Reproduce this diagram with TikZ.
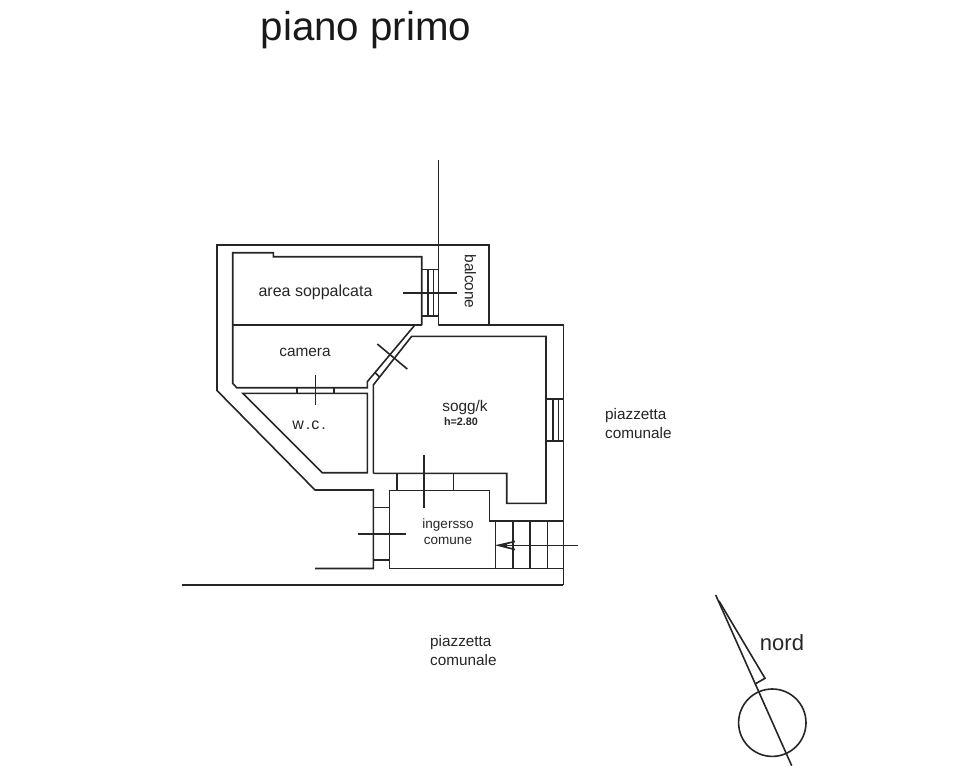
\documentclass[tikz,border=0pt]{standalone}
\usepackage{fontspec}
\setmainfont{Liberation Sans}
\tikzset{
  wall/.style={draw=black!85,line width=1.6pt,line join=miter},
  thin/.style={draw=black!85,line width=1.6pt},
  lab/.style={inner sep=0pt,text=black!85,align=center,font=\fontsize{15.4}{18}\selectfont},
}
\begin{document}
\begin{tikzpicture}[x=1pt,y=-1pt]
\useasboundingbox (0,0) rectangle (959,769);
\fill[white] (0,0) rectangle (959,769);
% outer walls
\draw[wall] (438.3,325) -- (489,325) -- (489,245) -- (217,245) -- (217,390.5) -- (315,490) -- (373.3,490) -- (373.3,568.5) -- (315,568.5);
\draw[wall] (489,325) -- (563.3,325) -- (563.3,585);
\draw[wall] (181.7,585) -- (563.3,585);
\draw[wall] (438.3,160) -- (438.3,325);
% ingresso
\draw[wall] (389.3,568.5) -- (389.3,490.5) -- (489.3,490.5) -- (489.3,521) -- (563.3,521);
\draw[wall] (389.3,568.5) -- (563.3,568.5);
% area soppalcata + camera
\draw[wall] (421.7,325) -- (421.7,256.7) -- (273.3,256.7) -- (273.3,252.7) -- (232.7,252.7) -- (232.7,383.3) -- (236.7,387.7) -- (367.3,387.7) -- (367.3,381.7) -- (414.3,325.7);
\draw[wall] (232.7,325) -- (421.7,325);
% soggiorno
\draw[wall] (373.3,473.3) -- (373.3,385) -- (411.7,336.3) -- (546,336.3) -- (546,503.3) -- (506.7,503.3) -- (506.7,473.3) -- (373.3,473.3);
% w.c.
\draw[wall] (242.7,393.3) -- (322.3,472.7) -- (367.3,472.7) -- (367.3,393.3) -- cycle;
\draw[thin] (296.7,387.7) -- (296.7,393.3) (334,387.7) -- (334,393.3);
\draw[thin] (315.3,375) -- (315.3,405);
% door to balcone
\draw[thin] (421.7,269.3) -- (438.3,269.3) (421.7,316) -- (438.3,316);
\draw[thin] (427.7,269.3) -- (427.7,316) (433.3,269.3) -- (433.3,316);
\draw[thin] (403.3,292.7) -- (456.7,292.7);
% diagonal door
\draw[thin] (377.3,344) -- (407.3,369);
\draw[thin] (375,372.5) -- (379.6,377);
% bottom door of soggiorno
\draw[wall] (396.7,473.3) -- (396.7,490.5) (453.3,473.3) -- (453.3,490.5);
\draw[thin] (424,455) -- (424,508.3);
% entrance door
\draw[thin] (373.3,507.3) -- (389.3,507.3) (373.3,560) -- (389.3,560);
\draw[thin] (358.3,534) -- (406,534);
% window
\draw[thin] (546,399) -- (563.3,399) (546,440.7) -- (563.3,440.7);
\draw[thin] (552.7,399) -- (552.7,440.7) (558.3,399) -- (558.3,440.7);
% stairs
\draw[thin] (495.3,521) -- (495.3,568.5) (512.7,521) -- (512.7,568.5) (530,521) -- (530,568.5) (547.3,521) -- (547.3,568.5);
\draw[thin] (578.3,545.3) -- (498.3,545.3);
\draw[thin] (515,541.5) -- (498.3,545.3) -- (515,549.5);
\fill[black!85] (497.3,545.3) -- (507,543) -- (507,548) -- cycle;
% north sign
\draw[thin] (715.7,595) -- (791.7,765.7);
\draw[thin] (719,601) -- (765,678.3) -- (755,684);
\draw[thin] (772.3,722.7) circle (33.7);
% labels
\node[inner sep=0pt,text=black!90,font=\fontsize{40.3}{44}\selectfont] (title) at (366,30) {piano primo};
\node[lab,font=\fontsize{16}{18}\selectfont] (t1) at (315.5,292.5) {area soppalcata};
\node[lab] (t2) at (305,352.5) {camera};
\node[lab,font=\fontsize{16}{18}\selectfont] (t3) at (309,425) {w\kern2pt.\kern1pt c\kern2pt.};
\node[lab] (t4) at (465,407.5) {sogg/k};
\node[inner sep=0pt,text=black!85,font=\bfseries\fontsize{10.8}{12}\selectfont] (t5) at (461,422) {h=2.80};
\node[lab,font=\fontsize{13.5}{15.6}\selectfont] (t6) at (448,531.5) {ingersso\\comune};
\node[lab,rotate=-90] (t7) at (470.5,281.5) {balcone};
\node[lab,align=left,anchor=west,font=\fontsize{15.3}{19}\selectfont] (t8) at (605,423.5) {piazzetta\\comunale};
\node[lab,align=left,anchor=west,font=\fontsize{15.3}{19}\selectfont] (t9) at (430,651) {piazzetta\\comunale};
\node[inner sep=0pt,text=black!85,font=\fontsize{22}{26}\selectfont] (t10) at (782,643) {nord};
\end{tikzpicture}
\end{document}
